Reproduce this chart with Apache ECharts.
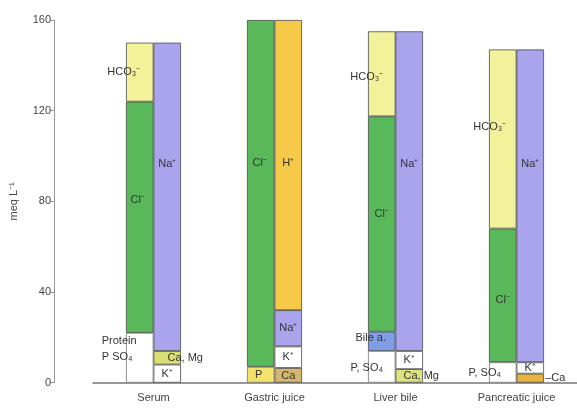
<!DOCTYPE html>
<html>
<head>
<meta charset="utf-8">
<script src="https://cdn.jsdelivr.net/npm/echarts@6/dist/echarts.min.js"></script>
<style>
html,body{margin:0;padding:0;background:#fff;}
#chart{width:577px;height:409px;}
</style>
</head>
<body>
<div id="chart"></div>
<script>
// ---- data (meq/L) ----
const categories = ['Serum', 'Gastric juice', 'Liver bile', 'Pancreatic juice'];
const yTicks = [0, 40, 80, 120, 160];
// anions (left column)
const phosphateSulfate = [22, 7, 14, 9];
const bileAcids = [0, 0, 8.5, 0];
const chloride = [102, 153, 95, 59];
const bicarbonate = [26, 0, 37.5, 79];
// cations (right column)
const potassium = [8, 9.5, 8, 5];
const calciumMagnesium = [6, 6.5, 6, 4];
const sodium = [136, 16, 141, 138];
const hydrogen = [0, 128, 0, 0];
// calcium sits below potassium except in serum
const calciumBelowPotassium = [false, true, true, true];
// text labels
const phosphateLabels = ['Protein\nP SO\u2084', 'P', 'P, SO\u2084', 'P, SO\u2084'];
const calciumLabels = ['Ca, Mg', 'Ca', 'Ca, Mg', '\u2013Ca'];

// ---- styles ----
const phosphateColors = ['#ffffff', '#f3e36c', '#ffffff', '#ffffff'];
const calciumColors = ['#d9df74', '#d6b66c', '#dde37e', '#e6b240'];
const textStyle = {fontFamily: 'Liberation Sans, Arial, sans-serif', fontSize: 11, color: '#333'};

function build(values, colors, labels, offsets, include, aligns) {
  return values.map((v, i) => {
    if (!v || (include && !include(i))) return '-';
    const d = {value: v, itemStyle: {color: Array.isArray(colors) ? colors[i] : colors}};
    const t = Array.isArray(labels) ? labels[i] : labels;
    if (t) {
      d.label = Object.assign({show: true, position: 'inside', formatter: t,
        offset: (offsets && offsets[i]) || [0, 0], lineHeight: 16,
        align: (aligns && aligns[i]) || 'center'}, textStyle);
    }
    return d;
  });
}

const base = {type: 'bar', barWidth: 27.5, barGap: '0%',
  itemStyle: {borderColor: '#4a4a4a', borderWidth: 0.8}, label: {show: false}};
function s(stack, data, extra) { return Object.assign({}, base, {stack, data}, extra || {}); }

const series = [
  s('anion', build(phosphateSulfate, phosphateColors, phosphateLabels, [[-38, -9], [-2, 0], [-15, 1], [-18, 0]],
      null, ['left', 'center', 'center', 'center']),
    {itemStyle: {borderColor: '#777', borderWidth: 0.8}}),
  s('anion', build(bileAcids, '#7f9de6', 'Bile a.', [null, null, [-11, -3], null])),
  s('anion', build(chloride, '#58b85a', 'Cl\u207B', [[-2, -17], [-1, -30], [0, -10], [0, 5]])),
  s('anion', build(bicarbonate, '#f2f29a', 'HCO\u2083\u207B', [[-16, 0], null, [-15, 3], [-13, -12]])),
  s('cation', build(potassium, '#ffffff', 'K\u207A', null, i => !calciumBelowPotassium[i])),
  s('cation', build(calciumMagnesium, calciumColors, calciumLabels, [[18, 0], [0, 1], [12, 0], [25, 0]])),
  s('cation', build(potassium, '#ffffff', 'K\u207A', null, i => calciumBelowPotassium[i])),
  s('cation', build(sodium, '#a9a4ec', 'Na\u207A', [[0, -33], [0, 0], [0, -27], [0, -42]])),
  s('cation', build(hydrogen, '#f7c948', 'H\u207A', [null, [0, -2], null, null]))
];

const chart = echarts.init(document.getElementById('chart'), null, {renderer: 'canvas'});
chart.setOption({
  animation: false,
  backgroundColor: '#ffffff',
  grid: {left: 91.4, width: 488.8, top: 20, bottom: 26.3, containLabel: false},
  xAxis: {
    type: 'category', data: categories,
    axisLine: {show: true, lineStyle: {color: '#777', width: 1.5}},
    axisTick: {show: false},
    axisLabel: Object.assign({margin: 10}, textStyle, {color: '#444'})
  },
  yAxis: {
    type: 'value', min: yTicks[0], max: yTicks[yTicks.length - 1], interval: 40,
    offset: 39,
    name: 'meq L\u207B\u00B9', nameLocation: 'middle', nameGap: 35, nameRotate: 90,
    nameTextStyle: Object.assign({}, textStyle, {color: '#444', padding: [0, 0, 0, 0]}),
    axisLine: {show: true, lineStyle: {color: '#999', width: 1}},
    axisTick: {show: true, length: 4, lineStyle: {color: '#999'}},
    splitLine: {show: false},
    axisLabel: Object.assign({}, textStyle, {color: '#444', margin: 3})
  },
  series: series
});
</script>
</body>
</html>
